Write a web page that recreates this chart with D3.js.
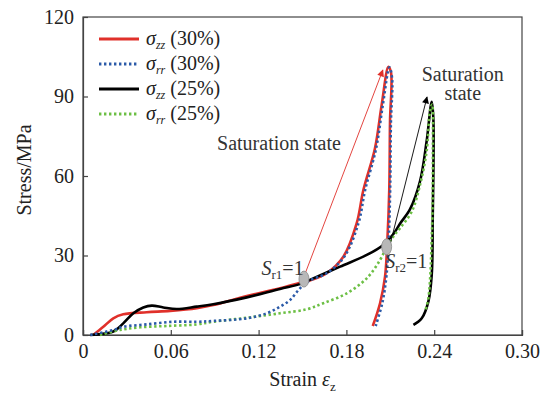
<!DOCTYPE html>
<html><head><meta charset="utf-8">
<script src="https://cdn.jsdelivr.net/npm/d3@7"></script>
</head>
<body style="margin:0;background:#fff;"><svg id="c" width="545" height="394" font-family="Liberation Serif"></svg>
<script>
const xTicks=[0,0.06,0.12,0.18,0.24,0.30];
const xTickLabels=["0","0.06","0.12","0.18","0.24","0.30"];
const yTicks=[0,30,60,90,120];
const yTickLabels=["0","30","60","90","120"];

const szz30Strain=[0.007,0.0139,0.0207,0.0275,0.0435,0.0595,0.0777,0.089,0.1119,0.1346,0.1483,0.1551,0.1665,0.1779,0.187,0.1916,0.1995,0.2041,0.2087,0.2105,0.2098,0.2093,0.208,0.2064,0.203,0.198];
const szz30Stress=[0,3.1,6.3,7.8,8.6,9.1,10.1,11.3,14.7,17.6,19.7,20.6,23.3,29.5,42.1,54.7,70.4,86.8,101.2,99,80.5,55,35.8,22,12,3.4];

const srr30Strain=[0.005,0.0207,0.0275,0.0435,0.0617,0.0777,0.089,0.1119,0.1255,0.1346,0.1415,0.1483,0.1551,0.1665,0.1785,0.1882,0.1928,0.2003,0.2049,0.2094,0.2112,0.2104,0.2099,0.2089,0.2073,0.2045,0.2];
const srr30Stress=[0,1.9,3.1,4.0,5.0,5.0,5.3,6.3,8.2,10.7,13.2,17.6,20.6,23.3,29.5,42.1,54.7,70.4,86.8,101,97,80,55,36,22,12,3.4];

const szz25Strain=[0.005,0.0207,0.0275,0.0344,0.0412,0.047,0.0549,0.064,0.0777,0.089,0.1119,0.1346,0.1483,0.155,0.1757,0.1939,0.2052,0.212,0.2166,0.2235,0.2303,0.2348,0.2383,0.2394,0.239,0.2383,0.236,0.2315,0.2258];
const szz25Stress=[0,1.3,4.4,8.2,10.4,11.1,10.4,9.8,10.7,11.6,14.2,17.4,19.2,20.8,25.8,30.2,34,38,42,47.5,58,73,88,82,44,22.6,12.6,6.3,3.8];

const srr25Strain=[0.0116,0.0253,0.039,0.0572,0.0777,0.089,0.1119,0.1346,0.1529,0.1642,0.1802,0.1939,0.203,0.2075,0.212,0.2166,0.2246,0.2303,0.2348,0.2371,0.2386,0.2391,0.2385,0.236,0.2337];
const srr25Stress=[0,1.9,2.9,3.4,4.0,5.0,6.5,8.2,9.7,12,15.7,21.4,28.3,33.3,37.1,40.3,46.5,56.6,69.2,84.3,87,70,40,13.8,8.8];

const satPoints=[{x:0.1510,y:21.1},{x:0.2075,y:33.3}];
const arrowRed=[{x:0.1514,y:22.6},{x:0.2049,y:100}];
const arrowBlack=[{x:0.2098,y:34},{x:0.2351,y:89.8}];

const FONT="Liberation Serif";
const svg=d3.select("#c");
const L=83,R=522,T=17,B=335;
const x=d3.scaleLinear().domain([0,0.30]).range([L,R]);
const y=d3.scaleLinear().domain([0,120]).range([B,T]);
const axisCol="#444";
function txt(sel){return sel.append("text").attr("font-family",FONT).style("font-family",FONT).attr("font-size",20).attr("fill","#222");}

const defs=svg.append("defs");
function marker(id,col){
  defs.append("marker").attr("id",id).attr("viewBox","0 0 10 10").attr("refX",9).attr("refY",5)
   .attr("markerWidth",9).attr("markerHeight",7).attr("orient","auto").attr("markerUnits","userSpaceOnUse")
   .append("path").attr("d","M0,0L10,5L0,10Z").attr("fill",col);
}
marker("ar","#e0302a");marker("ab","#000");

svg.append("rect").attr("x",L).attr("y",T).attr("width",R-L).attr("height",B-T)
  .attr("fill","none").attr("stroke",axisCol).attr("stroke-width",1.2);

const gx=svg.append("g").attr("transform",`translate(0,${B})`)
  .call(d3.axisBottom(x).tickValues(xTicks).tickFormat((d,i)=>xTickLabels[i]).tickSize(-5).tickPadding(9));
const gy=svg.append("g").attr("transform",`translate(${L},0)`)
  .call(d3.axisLeft(y).tickValues(yTicks).tickFormat((d,i)=>yTickLabels[i]).tickSize(-5).tickPadding(9));
[gx,gy].forEach(g=>{
  g.attr("font-family",FONT).attr("font-size",20);
  g.select(".domain").attr("stroke",axisCol).attr("stroke-width",1.2);
  g.selectAll(".tick line").attr("stroke",axisCol).attr("stroke-width",1.2);
  g.selectAll(".tick text").attr("font-size",20).attr("fill","#222").attr("font-family",FONT).style("font-family",FONT);
});

const xt=txt(svg).attr("x",(L+R)/2).attr("y",386).attr("text-anchor","middle");
xt.append("tspan").text("Strain ");
xt.append("tspan").attr("font-style","italic").text("ε");
xt.append("tspan").attr("font-size",13).attr("dy",5).text("z");
txt(svg).attr("transform",`translate(31,${(T+B)/2-6}) rotate(-90)`).attr("text-anchor","middle").text("Stress/MPa");

const line=d3.line().x(d=>x(d[0])).y(d=>y(d[1])).curve(d3.curveCatmullRom.alpha(0.5));
const zip=(a,b)=>a.map((v,i)=>[v,b[i]]);
const plot=svg.append("g");
const series=[
  {s:szz30Strain,v:szz30Stress,col:"#e0302a",dash:null,w:2.6},
  {s:szz25Strain,v:szz25Stress,col:"#000",dash:null,w:2.6},
  {s:srr25Strain,v:srr25Stress,col:"#6cbf44",dash:"2.4,2.6",w:2.6},
  {s:srr30Strain,v:srr30Stress,col:"#2b5aa8",dash:"2.4,2.6",w:2.6}
];
series.forEach(o=>{
  plot.append("path").attr("d",line(zip(o.s,o.v))).attr("fill","none").attr("stroke",o.col)
   .attr("stroke-width",o.w).attr("stroke-dasharray",o.dash).attr("stroke-linejoin","round");
});

svg.append("line").attr("x1",x(arrowRed[0].x)).attr("y1",y(arrowRed[0].y)).attr("x2",x(arrowRed[1].x)).attr("y2",y(arrowRed[1].y))
  .attr("stroke","#e0302a").attr("stroke-width",0.9).attr("marker-end","url(#ar)");
svg.append("line").attr("x1",x(arrowBlack[0].x)).attr("y1",y(arrowBlack[0].y)).attr("x2",x(arrowBlack[1].x)).attr("y2",y(arrowBlack[1].y))
  .attr("stroke","#000").attr("stroke-width",0.9).attr("marker-end","url(#ab)");

svg.selectAll("ellipse.sat").data(satPoints).join("ellipse").attr("class","sat")
  .attr("cx",d=>x(d.x)).attr("cy",d=>y(d.y)).attr("rx",5).attr("ry",8)
  .attr("fill","#b8b8b8").attr("stroke","#8a8a8a").attr("stroke-width",0.8);

function srLabel(px,py,sub){
  const t=txt(svg).attr("x",px).attr("y",py).attr("fill","#333");
  t.append("tspan").attr("font-style","italic").text("S");
  t.append("tspan").attr("font-size",13).attr("dy",4).text(sub);
  t.append("tspan").attr("dy",-4).text("=1");
}
srLabel(x(0.122),y(22.6),"r1");
srLabel(x(0.2065),y(25.3),"r2");
txt(svg).attr("x",x(0.0916)).attr("y",y(69.8)).attr("fill","#333").text("Saturation state");
txt(svg).attr("x",x(0.2595)).attr("y",y(96)).attr("text-anchor","middle").attr("fill","#333").text("Saturation");
txt(svg).attr("x",x(0.2595)).attr("y",y(88.5)).attr("text-anchor","middle").attr("fill","#333").text("state");

const legItems=[
  {sub:"zz",pct:"(30%)",col:"#e0302a",dash:null},
  {sub:"rr",pct:"(30%)",col:"#2b5aa8",dash:"2.4,2.6"},
  {sub:"zz",pct:"(25%)",col:"#000",dash:null},
  {sub:"rr",pct:"(25%)",col:"#6cbf44",dash:"2.4,2.6"}
];
const lg=svg.append("g");
legItems.forEach((it,i)=>{
  const yy=39+i*25;
  lg.append("line").attr("x1",99).attr("x2",139).attr("y1",yy).attr("y2",yy).attr("stroke",it.col)
    .attr("stroke-width",2.8).attr("stroke-dasharray",it.dash);
  const t=txt(lg).attr("x",146).attr("y",yy+6);
  t.append("tspan").attr("font-style","italic").text("σ");
  t.append("tspan").attr("font-style","italic").attr("font-size",12).attr("dy",4).text(it.sub);
  t.append("tspan").attr("dy",-4).text(" "+it.pct);
});
</script></body></html>
